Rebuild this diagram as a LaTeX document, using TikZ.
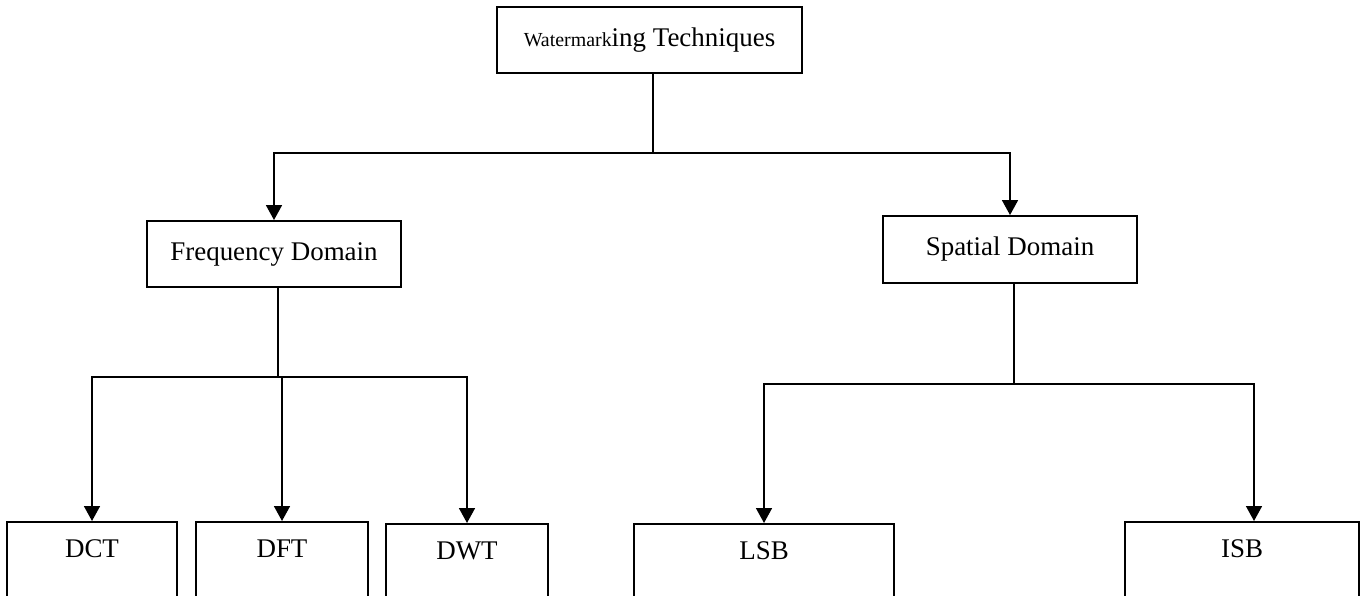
\documentclass[tikz,border=0pt]{standalone}
\usepackage{fontspec}
\setmainfont{Liberation Serif}
\usetikzlibrary{arrows,arrows.meta}
\tikzset{>={Triangle[length=6.4pt,width=6.8pt]}}
\tikzset{box/.style={draw,line width=0.8pt,minimum height=0.99cm,inner sep=0pt,
    font=\fontsize{11.5}{13}\selectfont}}
\tikzset{leaf/.style={box,anchor=north,minimum height=0pt,text height=0.54cm,text depth=1.2cm}}
\tikzset{link/.style={line width=0.8pt}}

\begin{document}
\begin{tikzpicture}[x=0.015cm,y=-0.015cm]
  \useasboundingbox (0,0) rectangle (1362,595);
  \clip (0,0) rectangle (1362,595);
  \node[box,minimum width=4.575cm] (wm) at (649.5,40)
    {{\fontsize{8.5}{10}\selectfont Watermark}ing Techniques};
  \node[box,minimum width=3.81cm] (freq) at (274,254) {Frequency Domain};
  \node[box,minimum width=3.81cm,minimum height=1.005cm] (spat) at (1010,249.5) {Spatial Domain};
  \node[leaf,minimum width=2.55cm] (dct) at (92,521) {DCT};
  \node[leaf,minimum width=2.58cm] (dft) at (282,521) {DFT};
  \node[leaf,minimum width=2.43cm] (dwt) at (467,523) {DWT};
  \node[leaf,minimum width=3.9cm] (lsb) at (764,523) {LSB};
  \node[leaf,minimum width=3.51cm] (isb) at (1242,521) {ISB};
  \coordinate (wmfork) at (653,153);
  \coordinate (freqfork) at (278,377);
  \coordinate (spatfork) at (1014,384);
  \draw[link] (wmfork |- wm.south) -- (wmfork);
  \draw[link,->] (wmfork) -| (freq.north);
  \draw[link,->] (wmfork) -| (spat.north);
  \draw[link] (freqfork |- freq.south) -- (freqfork);
  \draw[link,->] (freqfork) -| (dct.north);
  \draw[link,->] (freqfork) -| (dft.north);
  \draw[link,->] (freqfork) -| (dwt.north);
  \draw[link] (spatfork |- spat.south) -- (spatfork);
  \draw[link,->] (spatfork) -| (lsb.north);
  \draw[link,->] (spatfork) -| ([xshift=0.18cm]isb.north);
\end{tikzpicture}
\end{document}
